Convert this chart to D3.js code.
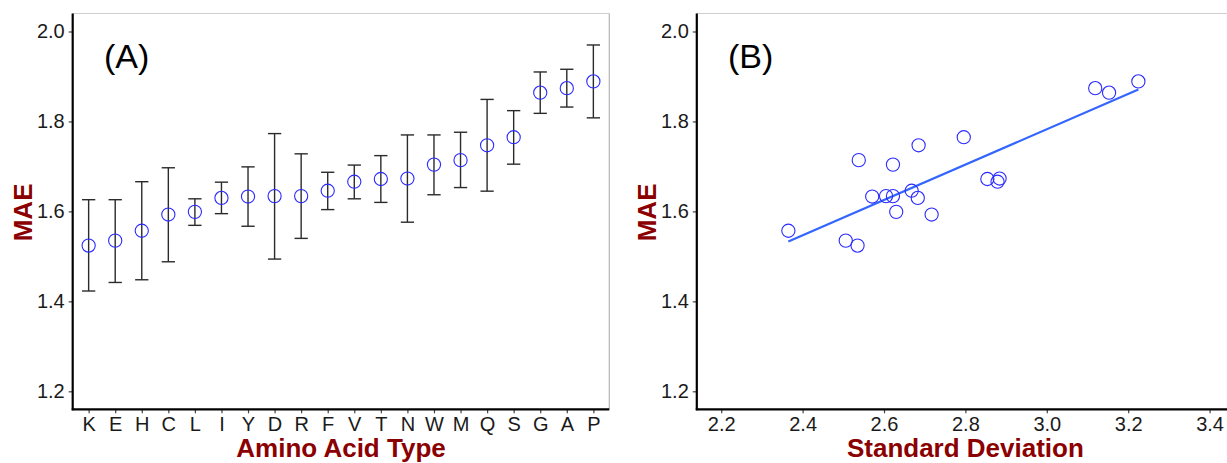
<!DOCTYPE html>
<html>
<head>
<meta charset="utf-8">
<script src="https://cdn.jsdelivr.net/npm/d3@7/dist/d3.min.js"></script>
<style>
  html, body { margin: 0; padding: 0; background: #fff; }
  svg { display: block; }
  text { font-family: "Liberation Sans", Arial, sans-serif; }
</style>
</head>
<body>
<svg id="chart" width="1227" height="463"></svg>
<script>
// Amino acid types, ordered by mean absolute error
const aminoAcids = ["K","E","H","C","L","I","Y","D","R","F","V","T","N","W","M","Q","S","G","A","P"];
const maeValues  = [1.524,1.535,1.557,1.593,1.599,1.630,1.633,1.634,1.634,1.646,1.666,1.672,1.673,1.704,1.714,1.747,1.765,1.864,1.874,1.889];
const maeLower   = [1.423,1.442,1.448,1.488,1.569,1.595,1.567,1.494,1.540,1.604,1.628,1.620,1.576,1.637,1.653,1.645,1.705,1.818,1.832,1.808];
const maeUpper   = [1.626,1.626,1.666,1.697,1.628,1.665,1.699,1.773,1.728,1.687,1.703,1.724,1.770,1.770,1.776,1.849,1.824,1.910,1.916,1.970];
const stdDevs    = [2.535,2.506,2.365,2.717,2.630,2.683,2.571,2.605,2.622,2.668,2.879,2.854,2.884,2.622,2.538,2.685,2.796,3.153,3.119,3.225];

const yTicks = [1.2, 1.4, 1.6, 1.8, 2.0];
const sdTicks = [2.2, 2.4, 2.6, 2.8, 3.0, 3.2, 3.4];

const svg = d3.select("#chart");
const titleColor = "#8B0000";
const pointColor = "#2a2aff";

const plotTop = 13.5, plotBottom = 409.3;
const y = d3.scaleLinear().domain([1.16, 2.04]).range([plotBottom, plotTop]);

function frame(g, left, right) {
  // light panel border on top/right
  g.append("line").attr("x1", left).attr("x2", right).attr("y1", plotTop).attr("y2", plotTop)
    .attr("stroke", "#cfcfcf").attr("stroke-width", 1.2);
  g.append("line").attr("x1", right).attr("x2", right).attr("y1", plotTop).attr("y2", plotBottom)
    .attr("stroke", "#b5b5b5").attr("stroke-width", 1.2);
}

function yAxis(g, left) {
  const ax = g.append("g").attr("transform", `translate(${left},0)`)
    .call(d3.axisLeft(y).tickValues(yTicks).tickFormat(d3.format(".1f")).tickSize(4).tickPadding(4));
  ax.select(".domain").remove();
  ax.selectAll(".tick line").attr("stroke", "#444").attr("stroke-width", 1.2);
  ax.selectAll(".tick text").attr("font-size", 20).attr("fill", "#1a1a1a")
    .attr("font-family", "Liberation Sans, Arial, sans-serif");
  g.append("line").attr("x1", left).attr("x2", left).attr("y1", plotTop).attr("y2", plotBottom + 1)
    .attr("stroke", "#000").attr("stroke-width", 2.2);
}

function xAxis(g, scale, left, right, fmt, values) {
  const axis = d3.axisBottom(scale).tickSize(4).tickPadding(4);
  if (values) axis.tickValues(values);
  if (fmt) axis.tickFormat(fmt);
  const ax = g.append("g").attr("transform", `translate(0,${plotBottom})`).call(axis);
  ax.select(".domain").remove();
  ax.selectAll(".tick line").attr("stroke", "#444").attr("stroke-width", 1.2);
  ax.selectAll(".tick text").attr("font-size", 20).attr("fill", "#1a1a1a")
    .attr("font-family", "Liberation Sans, Arial, sans-serif");
  g.append("line").attr("x1", left - 1).attr("x2", right).attr("y1", plotBottom).attr("y2", plotBottom)
    .attr("stroke", "#000").attr("stroke-width", 2.2);
}

function titles(g, yTitleX, xCenter, xTitle, label, labelX) {
  g.append("text").attr("transform", `translate(${yTitleX},${(plotTop + plotBottom) / 2 + 1}) rotate(-90)`)
    .attr("text-anchor", "middle").attr("font-size", 26).attr("font-weight", "bold")
    .attr("fill", titleColor).text("MAE");
  g.append("text").attr("x", xCenter).attr("y", 457).attr("text-anchor", "middle")
    .attr("font-size", 26).attr("font-weight", "bold").attr("fill", titleColor).text(xTitle);
  g.append("text").attr("x", labelX).attr("y", 68).attr("font-size", 34)
    .attr("fill", "#000").text(label);
}

// ---- Panel A: MAE by amino acid type with error bars ----
const aLeft = 72.7, aRight = 609.3;
const gA = svg.append("g");
const xA = d3.scalePoint().domain(aminoAcids).range([aLeft, aRight]).padding(0.6);
frame(gA, aLeft, aRight);

const rows = aminoAcids.map((a, i) => ({ a, v: maeValues[i], lo: maeLower[i], hi: maeUpper[i] }));
const capHalf = xA.step() * 0.25;
const eb = gA.append("g").attr("stroke", "#2b2b2b").attr("stroke-width", 1.4);
eb.selectAll(".stem").data(rows).join("line").attr("class", "stem")
  .attr("x1", d => xA(d.a)).attr("x2", d => xA(d.a))
  .attr("y1", d => y(d.lo)).attr("y2", d => y(d.hi));
eb.selectAll(".capT").data(rows).join("line").attr("class", "capT")
  .attr("x1", d => xA(d.a) - capHalf).attr("x2", d => xA(d.a) + capHalf)
  .attr("y1", d => y(d.hi)).attr("y2", d => y(d.hi));
eb.selectAll(".capB").data(rows).join("line").attr("class", "capB")
  .attr("x1", d => xA(d.a) - capHalf).attr("x2", d => xA(d.a) + capHalf)
  .attr("y1", d => y(d.lo)).attr("y2", d => y(d.lo));
gA.append("g").selectAll("circle").data(rows).join("circle")
  .attr("cx", d => xA(d.a)).attr("cy", d => y(d.v)).attr("r", 6.6)
  .attr("fill", "none").attr("stroke", pointColor).attr("stroke-width", 1.1);

yAxis(gA, aLeft);
xAxis(gA, xA, aLeft, aRight);
titles(gA, 32.3, (aLeft + aRight) / 2, "Amino Acid Type", "(A)", 104);

// ---- Panel B: MAE vs standard deviation with linear fit ----
const bLeft = 696.8, bRight = 1234;
const gB = svg.append("g");
const xB = d3.scaleLinear().domain([2.14, 3.46]).range([bLeft, bRight]);
frame(gB, bLeft, bRight);

const pts = aminoAcids.map((a, i) => ({ a, sd: stdDevs[i], v: maeValues[i] }));

// least-squares fit over the observed range
const mx = d3.mean(pts, d => d.sd), my = d3.mean(pts, d => d.v);
const slope = d3.sum(pts, d => (d.sd - mx) * (d.v - my)) / d3.sum(pts, d => (d.sd - mx) ** 2);
const icpt = my - slope * mx;
const [sdMin, sdMax] = d3.extent(pts, d => d.sd);
const fit = [sdMin, sdMax].map(s => ({ sd: s, v: icpt + slope * s }));
gB.append("path").datum(fit)
  .attr("d", d3.line().x(d => xB(d.sd)).y(d => y(d.v)))
  .attr("fill", "none").attr("stroke", "#3366FF").attr("stroke-width", 2.2);

gB.append("g").selectAll("circle").data(pts).join("circle")
  .attr("cx", d => xB(d.sd)).attr("cy", d => y(d.v)).attr("r", 6.6)
  .attr("fill", "none").attr("stroke", pointColor).attr("stroke-width", 1.1);

yAxis(gB, bLeft);
xAxis(gB, xB, bLeft, bRight, d3.format(".1f"), sdTicks);
titles(gB, 656, (bLeft + bRight) / 2, "Standard Deviation", "(B)", 728);
</script>
</body>
</html>
